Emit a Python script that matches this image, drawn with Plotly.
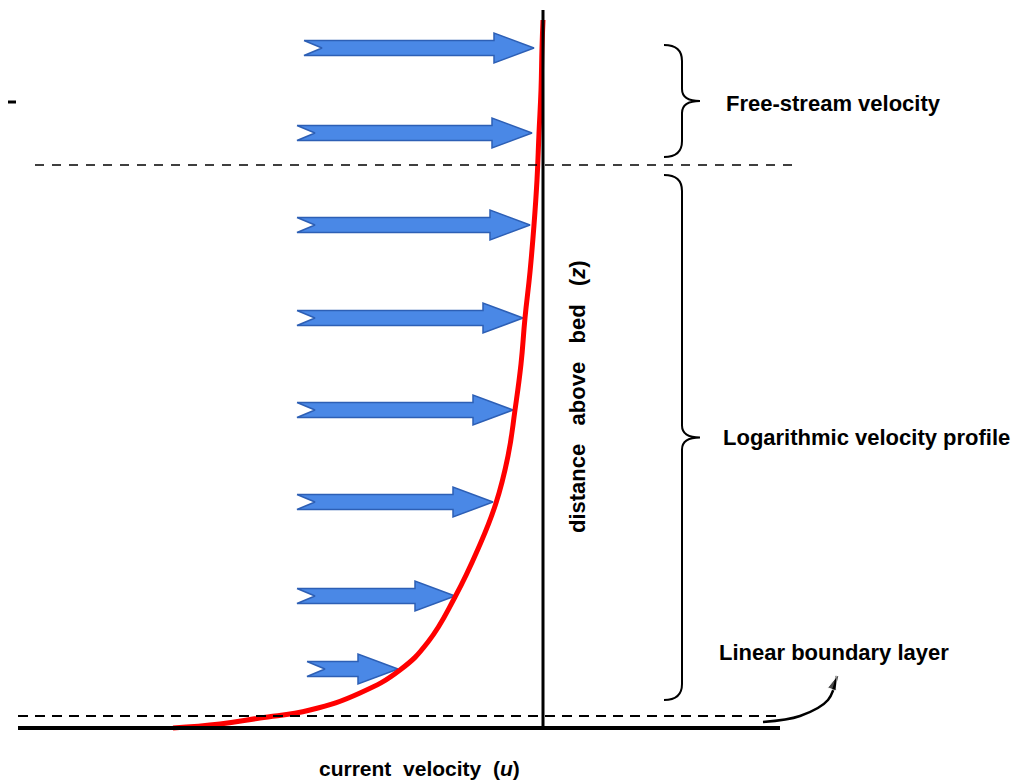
import plotly.graph_objects as go

# flow arrows: height (pixel rows, top = 0), tail and tip positions
arrow_z = [48, 133, 225, 318, 410, 502, 596, 669]
arrow_tail = [304, 297, 297, 297, 297, 297, 297, 307]
arrow_tip = [534, 532, 530, 523, 513, 493, 455, 398]

# velocity profile (red curve)
profile_u = [173, 220, 260, 310, 360, 400, 428, 455, 478, 496, 508, 515, 521, 525, 530, 534, 537, 539, 541, 542, 543]
profile_z = [728, 724, 718, 710, 693, 670, 642, 597, 549, 503, 456, 410, 364, 318, 272, 225, 180, 133, 90, 48, 20]

# region labels
labels = ["Free-stream velocity", "Logarithmic velocity profile", "Linear boundary layer"]
label_x = [724, 721, 717]
label_y = [103, 437, 652]

# braces: top, bottom
brace_top = [45, 175]
brace_bot = [157, 700]

fig = go.Figure()

# arrows as filled polygons
for z, t0, t1 in zip(arrow_z, arrow_tail, arrow_tip):
    hb = t1 - 40
    xs = [t0, hb, hb, t1, hb, hb, t0, t0 + 18, t0]
    ys = [z - 7.5, z - 7.5, z - 15, z, z + 15, z + 7.5, z + 7.5, z, z - 7.5]
    fig.add_trace(go.Scatter(x=xs, y=ys, mode="lines", fill="toself",
                             fillcolor="#4a88e6", line=dict(color="#2d5fb5", width=1.5),
                             hoverinfo="skip", showlegend=False))

# axes of the diagram
fig.add_shape(type="line", x0=18, x1=780, y0=728, y1=728, line=dict(color="black", width=4))
fig.add_shape(type="line", x0=543, x1=543, y0=10, y1=728, line=dict(color="black", width=3))
fig.add_shape(type="line", x0=35, x1=798, y0=165, y1=165, line=dict(color="black", width=1.5, dash="9px,8px"))
fig.add_shape(type="line", x0=18, x1=778, y0=716, y1=716, line=dict(color="black", width=2, dash="10px,7px"))
fig.add_shape(type="line", x0=8, x1=16, y0=102, y1=102, line=dict(color="black", width=3))

# red velocity profile
fig.add_trace(go.Scatter(x=profile_u, y=profile_z, mode="lines",
                         line=dict(color="#ff0000", width=5, shape="spline", smoothing=1.3),
                         hoverinfo="skip", showlegend=False))

# curly braces
for t, b in zip(brace_top, brace_bot):
    m = (t + b) / 2
    path = (f"M 664,{t} Q 682,{t} 682,{t + 16} L 682,{m - 12} Q 682,{m} 700,{m} "
            f"Q 682,{m} 682,{m + 12} L 682,{b - 16} Q 682,{b} 664,{b}")
    fig.add_shape(type="path", path=path, line=dict(color="black", width=2))

# curved pointer to linear boundary layer
fig.add_trace(go.Scatter(x=[763, 800, 828, 837], y=[722, 716, 700, 676], mode="lines+markers",
                         line=dict(color="black", width=2.5, shape="spline"),
                         marker=dict(symbol="arrow", size=[0, 0, 0, 15], angleref="previous", color="black"),
                         hoverinfo="skip", showlegend=False))

font = dict(family="Liberation Sans, Arial", size=22, color="black")
for txt, x, y in zip(labels, label_x, label_y):
    fig.add_annotation(x=x, y=y, text=f"<b>{txt}</b>", showarrow=False,
                       xanchor="left", yanchor="middle", font=font)

fig.add_annotation(x=419, y=768, text="<b>current  velocity  (<i>u</i>)</b>", showarrow=False,
                   xanchor="center", yanchor="middle", font=dict(font, size=21))
fig.add_annotation(x=577, y=397, text="<b>distance   above   bed   (<i>z</i>)</b>", showarrow=False,
                   textangle=-90, xanchor="center", yanchor="middle", font=font)

# page has an 8px body margin, so the figure is offset to keep pixel coordinates
fig.update_layout(
    width=1019, height=774, autosize=False,
    margin=dict(l=0, r=0, t=0, b=0),
    paper_bgcolor="white", plot_bgcolor="white",
    xaxis=dict(range=[8, 1027], visible=False, fixedrange=True),
    yaxis=dict(range=[782, 8], visible=False, fixedrange=True),
)

fig.write_html("out.html")
